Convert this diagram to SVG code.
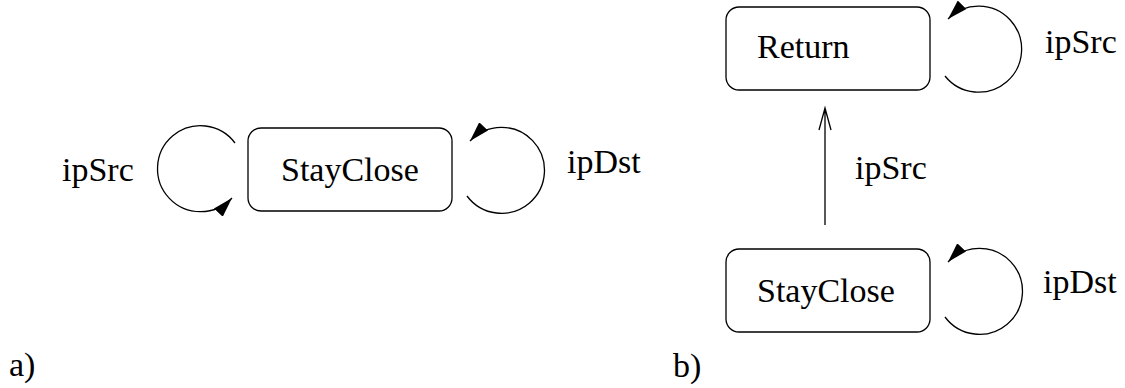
<svg xmlns="http://www.w3.org/2000/svg" width="1125" height="388" viewBox="0 0 1125 388">
<style>
.box{fill:#fff;stroke:#000;stroke-width:1.3}
.t{font-family:"Liberation Serif","Times New Roman",serif;font-size:34px;fill:#000}
.c{fill:none;stroke:#000;stroke-width:1.3}
</style>
<defs>
<marker id="fa" markerUnits="userSpaceOnUse" markerWidth="22" markerHeight="12" refX="20" refY="6" orient="auto" viewBox="0 0 22 12">
<path d="M0,0 L20,6 L0,12 Z" fill="#000"/>
</marker>
</defs>
<rect width="1125" height="388" fill="#fff"/>
<g id="nodeA_StayClose">
<rect class="box" x="248" y="128" width="204" height="83" rx="13"/>
<text class="t" x="281" y="181">StayClose</text>
</g>
<g id="nodeB_Return">
<rect class="box" x="726" y="7" width="204" height="83" rx="13"/>
<text class="t" x="757" y="58">Return</text>
</g>
<g id="nodeB_StayClose">
<rect class="box" x="726" y="249" width="204" height="83" rx="13"/>
<text class="t" x="757" y="302">StayClose</text>
</g>
<g id="connectors">
<path class="c" d="M235,143 A43,43 0 1 0 232,198" marker-end="url(#fa)"/>
<path class="c" d="M467,196 A43,43 0 1 0 470,141" marker-end="url(#fa)"/>
<path class="c" d="M945,76 A43,43 0 1 0 948,19" marker-end="url(#fa)"/>
<path class="c" d="M945,317 A43,43 0 1 0 948,262" marker-end="url(#fa)"/>
<path class="c" d="M825,225 L825,108 M819,130 L825,108 L831,130"/>
</g>
<g id="labels">
<text class="t" x="62" y="181">ipSrc</text>
<text class="t" x="567" y="173">ipDst</text>
<text class="t" x="855" y="179">ipSrc</text>
<text class="t" x="1045" y="53">ipSrc</text>
<text class="t" x="1043" y="293">ipDst</text>
<text class="t" x="9" y="376">a)</text>
<text class="t" x="673" y="377">b)</text>
</g>
</svg>
